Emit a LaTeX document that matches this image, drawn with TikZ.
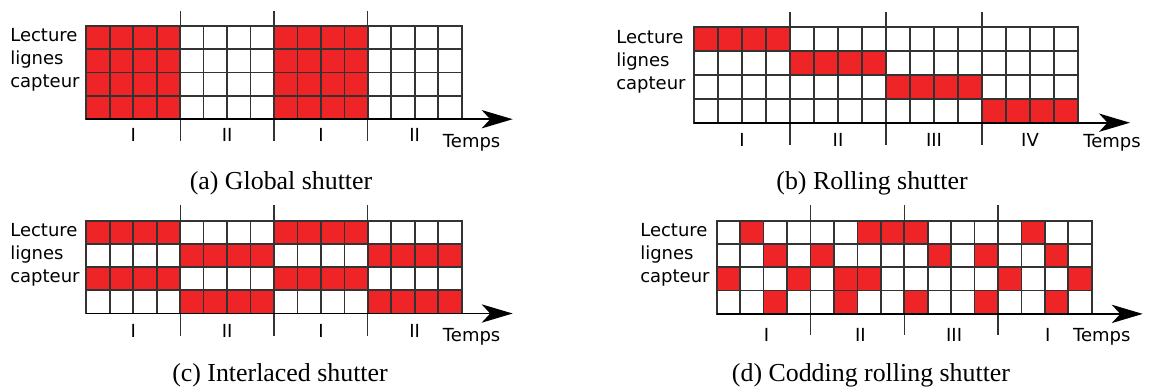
\documentclass[tikz,border=0pt]{standalone}
\usepackage{fontspec}
\setmainfont{Liberation Serif}
\newfontfamily\labelfont{DejaVu Sans}
\usetikzlibrary{arrows.meta}
\definecolor{shutred}{HTML}{EE2427}
\tikzset{
  gridline/.style={draw=black!80, line width=1.2pt, line cap=rect},
  redcell/.style={fill=shutred},
  sepline/.style={draw=black!80, line width=0.8pt},
  timeaxis/.style={draw=black, line width=1.2pt, -{Stealth[length=22pt,width=13pt,inset=6pt]}},
  rowlabel/.style={font=\labelfont\fontsize{12.8}{16.3}\selectfont, align=left, inner sep=0pt, anchor=west},
  phase/.style={font=\labelfont\fontsize{12.8}{15}\selectfont, inner sep=0pt},
  caption/.style={font=\fontsize{18.4}{22}\selectfont, inner sep=0pt}
}
\begin{document}
\begin{tikzpicture}[x=0.025cm, y=-0.025cm]
\useasboundingbox (0,0) rectangle (1154,389);

% (a) global shutter
\begin{scope}[shift={(86.3,26)}]
\def\cw{23.46}\def\ch{23.3}
\foreach \c in {1,2,3,4,9,10,11,12}
  \foreach \r in {1,...,4}
    \fill[redcell] ({(\c-1)*\cw},{(\r-1)*\ch}) rectangle +(\cw,\ch);
\foreach \i in {0,...,16} \draw[gridline] ({\i*\cw},0) -- ({\i*\cw},{4*\ch});
\foreach \j in {0,...,4} \draw[gridline] (0,{\j*\ch}) -- ({16*\cw},{\j*\ch});
\foreach \k in {1,2,3} {
  \coordinate (a-top\k) at ({4*\k*\cw},-15);
  \coordinate (a-bot\k) at ({4*\k*\cw},{4*\ch+22});
  \draw[sepline] (a-top\k) -- (a-bot\k);
}
\coordinate (a-o) at (0,{4*\ch});
\coordinate (a-tip) at ({16*\cw+51},{4*\ch});
\draw[timeaxis] (a-o) -- (a-tip);
\foreach \k/\t in {0/I,1/II,2/I,3/II}
  \node[phase] (a-ph\k) at ({(4*\k+2)*\cw},{4*\ch+16}) {\t};
\node[phase] (a-temps) at ({16*\cw+10},{4*\ch+24}) {Temps};
\node[rowlabel] (a-rows) at (-76.3,34) {Lecture\\lignes\\capteur};
\end{scope}
\node[caption] (a-cap) at (281,183) {(a) Global shutter};

% (b) rolling shutter
\begin{scope}[shift={(694,27.3)}]
\def\cw{24}\def\ch{23.85}
\foreach \r in {1,...,4}
  \foreach \c in {1,...,4}
    \fill[redcell] ({((\r-1)*4+\c-1)*\cw},{(\r-1)*\ch}) rectangle +(\cw,\ch);
\foreach \i in {0,...,16} \draw[gridline] ({\i*\cw},0) -- ({\i*\cw},{4*\ch});
\foreach \j in {0,...,4} \draw[gridline] (0,{\j*\ch}) -- ({16*\cw},{\j*\ch});
\foreach \k in {1,2,3} {
  \coordinate (b-top\k) at ({4*\k*\cw},-15.6);
  \coordinate (b-bot\k) at ({4*\k*\cw},{4*\ch+22.3});
  \draw[sepline] (b-top\k) -- (b-bot\k);
}
\coordinate (b-o) at (0,{4*\ch});
\coordinate (b-tip) at ({16*\cw+52},{4*\ch});
\draw[timeaxis] (b-o) -- (b-tip);
\foreach \k/\t in {0/I,1/II,2/III,3/IV}
  \node[phase] (b-ph\k) at ({(4*\k+2)*\cw},{4*\ch+17.4}) {\t};
\node[phase] (b-temps) at ({16*\cw+34},{4*\ch+20}) {Temps};
\node[rowlabel] (b-rows) at (-78,34.4) {Lecture\\lignes\\capteur};
\end{scope}
\node[caption] (b-cap) at (872,183) {(b) Rolling shutter};

% (c) interlaced shutter
\begin{scope}[shift={(86.3,220.7)}]
\def\cw{23.46}\def\ch{23.2}
\foreach \r/\a in {1/0,2/4,3/0,4/4}
  \foreach \k in {0,8}
    \foreach \c in {1,...,4}
      \fill[redcell] ({(\a+\k+\c-1)*\cw},{(\r-1)*\ch}) rectangle +(\cw,\ch);
\foreach \i in {0,...,16} \draw[gridline] ({\i*\cw},0) -- ({\i*\cw},{4*\ch});
\foreach \j in {0,...,4} \draw[gridline] (0,{\j*\ch}) -- ({16*\cw},{\j*\ch});
\foreach \k in {1,2,3} {
  \coordinate (c-top\k) at ({4*\k*\cw},-15.7);
  \coordinate (c-bot\k) at ({4*\k*\cw},{4*\ch+22.7});
  \draw[sepline] (c-top\k) -- (c-bot\k);
}
\coordinate (c-o) at (0,{4*\ch});
\coordinate (c-tip) at ({16*\cw+51},{4*\ch});
\draw[timeaxis] (c-o) -- (c-tip);
\foreach \k/\t in {0/I,1/II,2/I,3/II}
  \node[phase] (c-ph\k) at ({(4*\k+2)*\cw},{4*\ch+17.4}) {\t};
\node[phase] (c-temps) at ({16*\cw+10},{4*\ch+23.4}) {Temps};
\node[rowlabel] (c-rows) at (-76.3,34.3) {Lecture\\lignes\\capteur};
\end{scope}
\node[caption] (c-cap) at (280,375) {(c) Interlaced shutter};

% (d) codding rolling shutter
\begin{scope}[shift={(716.7,220.7)}]
\def\cw{23.44}\def\ch{23.3}
\foreach \r/\c in {1/2,1/7,1/8,1/9,1/14,
                   2/3,2/5,2/10,2/12,2/15,
                   3/1,3/4,3/6,3/7,3/13,3/16,
                   4/3,4/6,4/9,4/12,4/15}
  \fill[redcell] ({(\c-1)*\cw},{(\r-1)*\ch}) rectangle +(\cw,\ch);
\foreach \i in {0,...,16} \draw[gridline] ({\i*\cw},0) -- ({\i*\cw},{4*\ch});
\foreach \j in {0,...,4} \draw[gridline] (0,{\j*\ch}) -- ({16*\cw},{\j*\ch});
\foreach \k in {1,2,3} {
  \coordinate (d-top\k) at ({4*\k*\cw},-15.7);
  \coordinate (d-bot\k) at ({4*\k*\cw},{4*\ch+21});
  \draw[sepline] (d-top\k) -- (d-bot\k);
}
\coordinate (d-o) at (0,{4*\ch});
\coordinate (d-tip) at ({16*\cw+51},{4*\ch});
\draw[timeaxis] (d-o) -- (d-tip);
\foreach \k/\t in {0/I,1/II,2/III,3/I}
  \node[phase] (d-ph\k) at ({(4*\k+2)*\cw+3},{4*\ch+21}) {\t};
\node[phase] (d-temps) at ({16*\cw+10},{4*\ch+23}) {Temps};
\node[rowlabel] (d-rows) at (-76.7,34.3) {Lecture\\lignes\\capteur};
\end{scope}
\node[caption] (d-cap) at (871,375) {(d) Codding rolling shutter};
\end{tikzpicture}
\end{document}
